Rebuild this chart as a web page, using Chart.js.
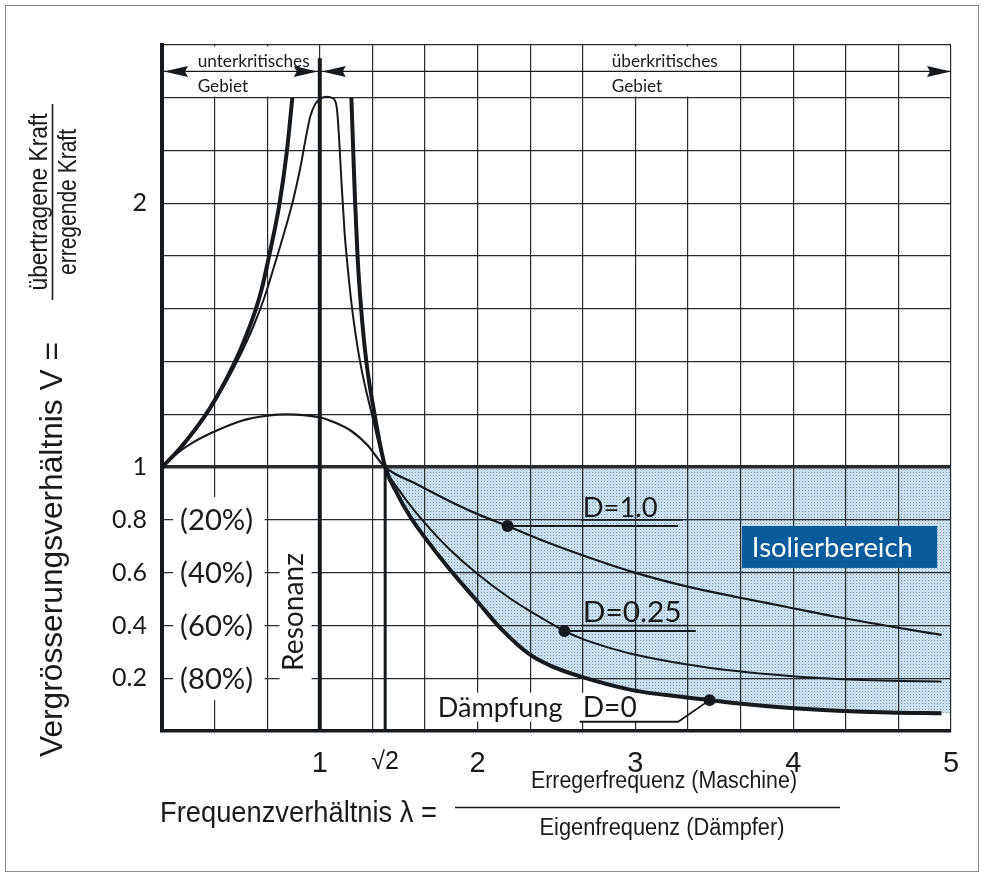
<!DOCTYPE html>
<html>
<head>
<meta charset="utf-8">
<script src="https://cdn.jsdelivr.net/npm/chart.js@4/dist/chart.umd.min.js"></script>
<style>
  html, body { margin: 0; padding: 0; background: #ffffff; }
  #wrap { position: relative; width: 984px; height: 877px; background: #ffffff; }
  #wrap canvas { position: absolute; left: 0; top: 0; }
  #frame { position: absolute; left: 5px; top: 5px; width: 974px; height: 867px;
           border: 1px solid #8c8c8c; box-sizing: border-box; pointer-events: none; }
</style>
</head>
<body>
<div id="wrap">
  <canvas id="chart" width="984" height="877"></canvas>
  <div id="frame"></div>
</div>
<script>
// ---- axes -------------------------------------------------------------
const xGridLines = [0, 0.333, 0.667, 1, 1.333, 1.667, 2, 2.333, 2.667, 3, 3.333, 3.667, 4, 4.333, 4.667, 5];
const yGridLines = [0, 0.2, 0.4, 0.6, 0.8, 1, 1.2, 1.4, 1.6, 1.8, 2, 2.2, 2.4, 2.6];
const xTickValues = [1, Math.SQRT2, 2, 3, 4, 5];
const xTickLabels = ['1', '√2', '2', '3', '4', '5'];
const yTickValues = [0.2, 0.4, 0.6, 0.8, 1, 2];
const yTickLabels = ['0.2', '0.4', '0.6', '0.8', '1', '2'];
const percentLevels = [0.8, 0.6, 0.4, 0.2];
const percentLabels = ['(20%)', '(40%)', '(60%)', '(80%)'];

const xAxisTitle = 'Frequenzverhältnis λ =';
const xAxisNumerator = 'Erregerfrequenz (Maschine)';
const xAxisDenominator = 'Eigenfrequenz (Dämpfer)';
const yAxisTitle = 'Vergrösserungsverhältnis V =';
const yAxisNumerator = 'übertragene Kraft';
const yAxisDenominator = 'erregende Kraft';
const regionNames = [['unterkritisches', 'Gebiet'], ['überkritisches', 'Gebiet']];
const resonanceLabel = 'Resonanz';
const isolationLabel = 'Isolierbereich';
const dampingWord = 'Dämpfung';

// ---- transmissibility curves, points are [λ, V] ----------------------
// D = 0, below resonance
const curveD0Sub = [[0, 1], [0.1, 1.062], [0.2, 1.135], [0.3, 1.22], [0.4, 1.325], [0.5, 1.45],
  [0.59, 1.59], [0.632, 1.675], [0.675, 1.79], [0.745, 2.0], [0.792, 2.2], [0.826, 2.4]];
// D = 0, above resonance
const curveD0Super = [[1.2, 2.4], [1.212, 2.196], [1.224, 2.0], [1.24, 1.79], [1.262, 1.6], [1.295, 1.4],
  [1.347, 1.2], [Math.SQRT2, 1.0], [1.49, 0.9], [1.57, 0.815], [1.67, 0.73], [1.82, 0.615], [2.0, 0.49],
  [2.14, 0.393], [2.33, 0.29], [2.46, 0.248], [2.66, 0.205], [2.98, 0.155], [3.31, 0.128], [3.47, 0.117],
  [3.64, 0.105], [3.96, 0.088], [4.28, 0.077], [4.61, 0.07], [4.94, 0.067]];
// D = 0.25
const curveD025 = [[0, 1], [0.1, 1.06], [0.2, 1.132], [0.3, 1.215], [0.4, 1.315], [0.5, 1.43],
  [0.58, 1.535], [0.65, 1.645], [0.715, 1.77], [0.775, 1.89], [0.83, 2.01], [0.875, 2.13], [0.912, 2.25],
  [0.94, 2.33], [0.97, 2.375], [1.0, 2.395], [1.04, 2.404], [1.083, 2.398], [1.108, 2.36], [1.121, 2.26],
  [1.136, 2.095], [1.157, 1.89], [1.17, 1.8], [1.205, 1.6], [1.255, 1.4], [1.33, 1.2], [Math.SQRT2, 1.0],
  [1.5, 0.915], [1.6, 0.835], [1.7, 0.765], [1.82, 0.69], [2.0, 0.595], [2.2, 0.505], [2.33, 0.455],
  [2.45, 0.413], [2.55, 0.379], [2.66, 0.35], [2.82, 0.318], [2.98, 0.292], [3.31, 0.254], [3.64, 0.227],
  [3.96, 0.209], [4.28, 0.197], [4.61, 0.19], [4.94, 0.188]];
// D = 1.0
const curveD1 = [[0, 1], [0.111, 1.06], [0.2, 1.095], [0.333, 1.135], [0.5, 1.175], [0.667, 1.195],
  [0.79, 1.2], [0.9, 1.197], [1.0, 1.189], [1.1, 1.168], [1.2, 1.137], [1.3, 1.085], [Math.SQRT2, 1.0],
  [1.6, 0.94], [1.82, 0.872], [2.0, 0.822], [2.19, 0.777], [2.42, 0.72], [2.66, 0.667], [2.98, 0.603],
  [3.31, 0.55], [3.64, 0.508], [3.96, 0.47], [4.28, 0.432], [4.61, 0.397], [4.94, 0.364]];

// labelled points and their leader lines
const dampingLabels = ['D=1.0', 'D=0.25', 'D=0'];
const dampingDots = [[2.19, 0.777], [2.55, 0.379], [3.47, 0.117]];
const leaderD1 = [[2.19, 0.777], [3.27, 0.777]];
const leaderD025 = [[2.55, 0.379], [3.383, 0.379]];
const leaderD0 = [[3.47, 0.117], [3.271, 0.035], [2.647, 0.035]];
const underlineD1 = [[2.655, 0.8], [3.3, 0.8]];
const underlineD025 = [[2.655, 0.4], [3.33, 0.4]];

// reference lines
const resonanceLine = [[1, 0], [1, 2.55]];
const sqrt2Line = [[Math.SQRT2, 0], [Math.SQRT2, 1]];
const regionArrowLine = [[0, 2.5], [5, 2.5]];

// isolation range: between the undamped curve and V = 1, from λ = √2 to 5
const isolationEdge = curveD0Super.filter(([x]) => x >= Math.SQRT2 - 1e-9)
  .concat([[5, curveD0Super[curveD0Super.length - 1][1]]]);

// ---- helpers ----------------------------------------------------------
const ink = '#16191d';
const gridInk = '#2a2a2a';
const textInk = '#1a1a1a';
const toXY = pts => pts.map(([x, y]) => ({ x, y }));
const same = (a, b) => Math.abs(a - b) < 1e-6;
const mergeTicks = (a, b) => Array.from(new Set(a.concat(b))).sort((p, q) => p - q);
const labelFor = (v, values, labels) => {
  const i = values.findIndex(t => same(t, v));
  return i < 0 ? '' : labels[i];
};

function dotPattern() {
  const c = document.createElement('canvas');
  c.width = 3; c.height = 3;
  const g = c.getContext('2d');
  g.fillStyle = '#cadeeb';
  g.fillRect(0, 0, 3, 3);
  g.fillStyle = '#7b9ab2';
  g.fillRect(1, 1, 1, 1);
  return g.createPattern(c, 'repeat');
}

function fitFont(ctx, text, family, width) {
  ctx.font = `100px "${family}"`;
  const size = 100 * width / ctx.measureText(text).width;
  ctx.font = `${size.toFixed(2)}px "${family}"`;
  return size;
}

// condensed sans text: font size from cap height, horizontal squeeze from width
function squeezedText(ctx, text, size, width, x, y, align, rotate) {
  ctx.save();
  ctx.font = `${size}px "Liberation Sans"`;
  const k = width / ctx.measureText(text).width;
  ctx.translate(x, y);
  if (rotate) ctx.rotate(-Math.PI / 2);
  ctx.scale(k, 1);
  ctx.textAlign = align;
  ctx.textBaseline = 'alphabetic';
  ctx.fillText(text, 0, 0);
  ctx.restore();
}

const lineSet = (pts, width, extra) => Object.assign({
  type: 'line', data: toXY(pts), borderColor: ink, borderWidth: width,
  pointRadius: 0, fill: false, tension: 0, borderCapStyle: 'butt'
}, extra || {});
const smooth = { cubicInterpolationMode: 'monotone' };

// ---- annotation layer -------------------------------------------------
const decorations = {
  id: 'decorations',
  beforeDatasetsDraw(chart) {
    const { ctx, scales: { x, y } } = chart;
    const X = v => x.getPixelForValue(v), Y = v => y.getPixelForValue(v);
    ctx.save();
    ctx.fillStyle = '#ffffff';
    // white label backgrounds that interrupt the grid
    [
      [0.02, 0.98, 2.405, 2.595],
      [2.68, 3.655, 2.405, 2.595],
      [0.07, 0.65, 0.117, 0.887],
      [0.745, 0.948, 0.178, 0.694],
      [1.733, 3.03, 0.036, 0.145]
    ].forEach(([x0, x1, y0, y1]) => ctx.fillRect(X(x0), Y(y1), X(x1) - X(x0), Y(y0) - Y(y1)));
    ctx.restore();
  },
  afterDatasetsDraw(chart) {
    const { ctx, scales: { x, y } } = chart;
    const X = v => x.getPixelForValue(v), Y = v => y.getPixelForValue(v);
    ctx.save();

    // arrow heads of the two frequency ranges
    ctx.fillStyle = ink;
    const ay = Y(2.5);
    const head = (tip, dir) => {
      ctx.beginPath();
      ctx.moveTo(tip, ay);
      ctx.lineTo(tip - dir * 24, ay - 5.5);
      ctx.lineTo(tip - dir * 21, ay);
      ctx.lineTo(tip - dir * 24, ay + 5.5);
      ctx.closePath();
      ctx.fill();
    };
    head(X(0) + 2, -1);
    head(X(1) - 2, 1);
    head(X(1) + 2, -1);
    head(X(5), 1);

    ctx.fillStyle = textInk;
    ctx.textBaseline = 'alphabetic';
    ctx.textAlign = 'left';

    // range names
    fitFont(ctx, regionNames[0][0], 'Lato', 112);
    ctx.fillText(regionNames[0][0], X(0.226), Y(2.517));
    ctx.fillText(regionNames[0][1], X(0.226), Y(2.422));
    ctx.fillText(regionNames[1][0], X(2.85), Y(2.517));
    ctx.fillText(regionNames[1][1], X(2.85), Y(2.422));

    // isolation percentages
    fitFont(ctx, percentLabels[0], 'Lato', 73);
    ctx.textAlign = 'center';
    ctx.textBaseline = 'middle';
    percentLevels.forEach((v, i) => ctx.fillText(percentLabels[i], X(0.346), Y(v) + 1));

    // resonance label
    ctx.save();
    ctx.translate(X(0.891), Y(0.451));
    ctx.rotate(-Math.PI / 2);
    fitFont(ctx, resonanceLabel, 'Lato', 118);
    ctx.textAlign = 'center';
    ctx.textBaseline = 'alphabetic';
    ctx.fillText(resonanceLabel, 0, 0);
    ctx.restore();

    // damping labels
    ctx.textAlign = 'left';
    ctx.textBaseline = 'alphabetic';
    fitFont(ctx, dampingLabels[0], 'Lato', 75);
    ctx.fillText(dampingLabels[0], X(2.666), Y(0.811));
    fitFont(ctx, dampingLabels[1], 'Lato', 99);
    ctx.fillText(dampingLabels[1], X(2.666), Y(0.413));
    fitFont(ctx, dampingLabels[2], 'Lato', 54);
    ctx.fillText(dampingLabels[2], X(2.666), Y(0.053));
    fitFont(ctx, dampingWord, 'Lato', 125);
    ctx.fillText(dampingWord, X(1.747), Y(0.053));

    // isolation range tag
    ctx.fillStyle = '#0a5b9c';
    ctx.fillRect(X(3.675), Y(0.777), X(4.912) - X(3.675), Y(0.618) - Y(0.777));
    ctx.fillStyle = '#ffffff';
    fitFont(ctx, isolationLabel, 'Lato', 161);
    ctx.fillText(isolationLabel, X(3.738), Y(0.66));

    ctx.restore();
  },
  afterDraw(chart) {
    const { ctx } = chart;
    ctx.save();
    ctx.fillStyle = textInk;
    ctx.strokeStyle = textInk;
    ctx.lineWidth = 1.6;

    // horizontal axis title with fraction
    squeezedText(ctx, xAxisTitle, 30, 277, 160, 822, 'left', false);
    squeezedText(ctx, xAxisNumerator, 23.5, 266, 664, 788, 'center', false);
    squeezedText(ctx, xAxisDenominator, 23.5, 245, 662, 835, 'center', false);
    ctx.beginPath();
    ctx.moveTo(455, 807.5);
    ctx.lineTo(840, 807.5);
    ctx.stroke();

    // vertical axis title with fraction
    squeezedText(ctx, yAxisTitle, 31, 415, 62, 757, 'left', true);
    squeezedText(ctx, yAxisNumerator, 25, 177, 47, 202, 'center', true);
    squeezedText(ctx, yAxisDenominator, 25, 146, 76, 202, 'center', true);
    ctx.beginPath();
    ctx.moveTo(52.5, 104);
    ctx.lineTo(52.5, 300);
    ctx.stroke();

    ctx.restore();
  }
};

// ---- chart ------------------------------------------------------------
new Chart(document.getElementById('chart'), {
  type: 'line',
  data: {
    datasets: [
      { type: 'line', data: toXY(isolationEdge), borderWidth: 0, borderColor: 'rgba(0,0,0,0)',
        backgroundColor: dotPattern(), fill: { value: 1 }, pointRadius: 0, cubicInterpolationMode: 'monotone' },
      lineSet(resonanceLine, 4),
      lineSet(sqrt2Line, 3),
      lineSet(regionArrowLine, 1.3),
      lineSet(curveD1, 2.2, smooth),
      lineSet(curveD025, 2, smooth),
      lineSet(curveD0Sub, 4, smooth),
      lineSet(curveD0Super, 4, smooth),
      lineSet(leaderD1, 1.8),
      lineSet(leaderD025, 1.8),
      lineSet(leaderD0, 1.8),
      lineSet(underlineD1, 1.6),
      lineSet(underlineD025, 1.6),
      { type: 'scatter', data: toXY(dampingDots), pointRadius: 6, pointBackgroundColor: ink,
        backgroundColor: ink, borderWidth: 0, pointBorderWidth: 0 }
    ]
  },
  options: {
    responsive: false,
    animation: false,
    devicePixelRatio: 1,
    layout: { padding: { left: 0, right: 33, top: 45, bottom: 0 } },
    plugins: {
      legend: { display: false },
      tooltip: { enabled: false },
      filler: { drawTime: 'beforeDraw' }
    },
    scales: {
      x: {
        type: 'linear',
        min: 0,
        max: 5,
        afterBuildTicks: s => { s.ticks = mergeTicks(xGridLines, xTickValues).map(v => ({ value: v })); },
        afterFit: s => { s.height = 146; },
        grid: {
          color: c => (c.tick && same(c.tick.value, Math.SQRT2)) ? 'rgba(0,0,0,0)' : gridInk,
          lineWidth: 1.2,
          drawTicks: false
        },
        border: { color: ink, width: 3.5 },
        ticks: {
          autoSkip: false,
          maxRotation: 0,
          padding: 16,
          color: textInk,
          font: c => ({ family: 'Liberation Sans', size: (c.tick && same(c.tick.value, Math.SQRT2)) ? 25 : 29 }),
          callback: v => labelFor(v, xTickValues, xTickLabels)
        }
      },
      y: {
        type: 'linear',
        min: 0,
        max: 2.6,
        afterBuildTicks: s => { s.ticks = mergeTicks(yGridLines, yTickValues).map(v => ({ value: v })); },
        afterFit: s => { s.width = 162; },
        grid: {
          color: gridInk,
          lineWidth: c => (c.tick && same(c.tick.value, 1)) ? 3.4 : 1.2,
          drawTicks: false
        },
        border: { color: ink, width: 4 },
        ticks: {
          autoSkip: false,
          padding: 15,
          color: textInk,
          font: { family: 'Lato', size: 25 },
          callback: v => labelFor(v, yTickValues, yTickLabels)
        }
      }
    }
  },
  plugins: [decorations]
});
</script>
</body>
</html>
